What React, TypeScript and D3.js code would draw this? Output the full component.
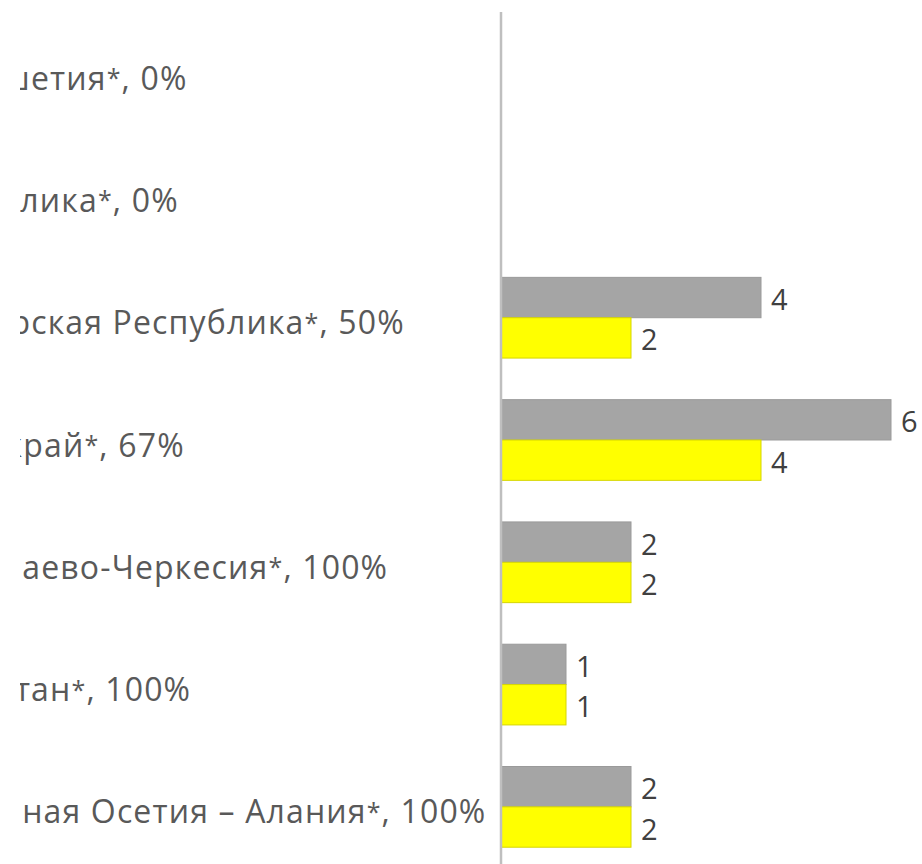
import React from 'react';
import * as d3 from 'd3';

// regions with percentage of completed
const regions = [
  'Республика Ингушетия*, 0%',
  'Чеченская Республика*, 0%',
  'Кабардино-Балкарская Республика*, 50%',
  'Ставропольский край*, 67%',
  'Республика Карачаево-Черкесия*, 100%',
  'Республика Дагестан*, 100%',
  'Республика Северная Осетия – Алания*, 100%',
];
const seriesNames = ['Всего', 'Выполнено'];
const totalValues = [0, 0, 4, 6, 2, 1, 2];
const doneValues = [0, 0, 2, 4, 2, 1, 2];

const W = 922;
const H = 864;
const font = '"Open Sans", "Noto Sans", sans-serif';

export default function App() {
  const x = d3.scaleLinear().domain([0, 6]).range([501, 891]);
  const y = d3.scaleBand<string>().domain(regions).range([12, 868])
    .paddingInner(0.34).paddingOuter(0.17);
  const inner = d3.scaleBand<string>().domain(seriesNames).range([0, y.bandwidth()]);
  const color = d3.scaleOrdinal<string, string>().domain(seriesNames).range(['#A5A5A5', '#FFFF00']);
  const stroke = d3.scaleOrdinal<string, string>().domain(seriesNames).range(['#9a9a9a', '#d6d600']);

  const rows = regions.map((r, i) => ({ r, vals: [totalValues[i], doneValues[i]] }));

  return (
    <svg width={W} height={H} style={{ position: 'absolute', left: 0, top: 0 }} fontFamily={font}>
      <defs>
        <clipPath id="lblClip">
          <rect x={20} y={0} width={W - 20} height={H} />
        </clipPath>
      </defs>
      <rect width={W} height={H} fill="#fff" />
      <g clipPath="url(#lblClip)">
        {rows.map(({ r }) => {
          const [head, tail] = r.split('*');
          return (
            <text key={r} x={-279} y={y(r)! + y.bandwidth() / 2 + 4} dominantBaseline="central"
              fontSize={32} letterSpacing={1.15} fill="#595959">
              {head}<tspan fontSize={25}>*</tspan>{tail}
            </text>
          );
        })}
      </g>
      {rows.map(({ r, vals }) => (
        <g key={r} transform={`translate(0,${y(r)})`}>
          {vals.map((v, j) => v > 0 && (
            <g key={j}>
              <rect x={x(0)} y={inner(seriesNames[j])} width={x(v) - x(0)} height={inner.bandwidth()}
                fill={color(seriesNames[j])} stroke={stroke(seriesNames[j])} strokeWidth={1} />
              <text x={x(v) + 10} y={inner(seriesNames[j])! + inner.bandwidth() / 2 + 1}
                dominantBaseline="central" fontSize={29} fill="#404040">{v}</text>
            </g>
          ))}
        </g>
      ))}
      <line x1={x(0)} x2={x(0)} y1={12} y2={868} stroke="#BFBFBF" strokeWidth={2.5} />
    </svg>
  );
}
